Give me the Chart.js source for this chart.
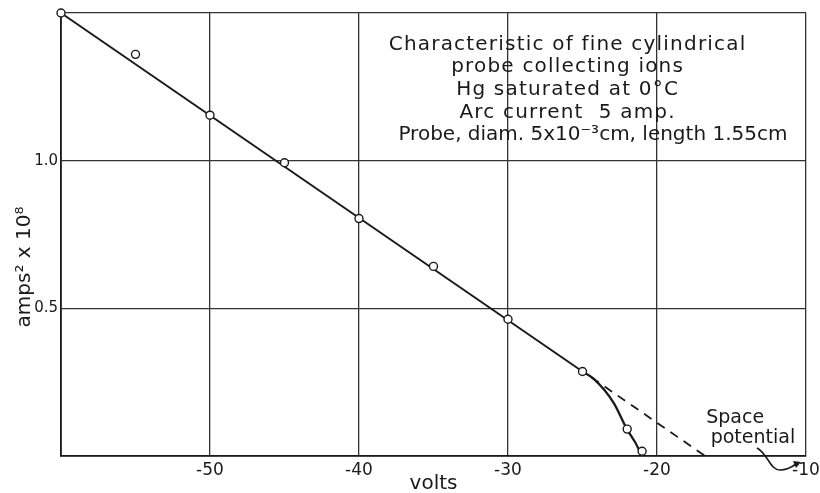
<!DOCTYPE html>
<html>
<head>
<meta charset="utf-8">
<script src="https://cdn.jsdelivr.net/npm/chart.js"></script>
<style>
  html, body { margin: 0; padding: 0; background: #fff; overflow: hidden; }
  #wrap { width: 830px; height: 493px; }
</style>
</head>
<body>
<div id="wrap"><canvas id="probeChart" width="830" height="493"></canvas></div>
<script>
// measured points: probe volts vs (amps)^2 x 10^8
var volts  = [-60, -55, -50, -45, -40, -35, -30, -25, -22, -21];
var ampsSq = [1.50, 1.36, 1.154, 0.993, 0.804, 0.642, 0.463, 0.286, 0.091, 0.016];

// straight line drawn through the points
var lineVolts = [-60, -25];
var lineAmps  = [1.50, 0.286];

// curve bending down near the space potential
var curveVolts = [-25, -24.26, -22.92, -22.02, -21.24, -21.08];
var curveAmps  = [0.286, 0.262, 0.181, 0.091, 0.024, 0];

// dashed extension of the straight line
var dashVolts = [-24.4, -16.77];
var dashAmps  = [0.266, 0];

var xTicks = [-50, -40, -30, -20, -10];
var yTicks = [0.5, 1.0];

var titleLines = [
  'Characteristic of fine cylindrical',
  'probe collecting ions',
  'Hg saturated at 0°C',
  'Arc current  5 amp.',
  'Probe, diam. 5x10⁻³cm, length 1.55cm'
];

var ink = '#1a1a1a';
var fam = '"DejaVu Sans", sans-serif';

function pts(xs, ys) {
  return xs.map(function(x, i) { return { x: x, y: ys[i] }; });
}

// text and arrow drawn on top of the plot
var notesPlugin = {
  id: 'notes',
  afterDraw: function(chart) {
    var ctx = chart.ctx;
    var xs = chart.scales.x, ys = chart.scales.y;
    ctx.save();
    ctx.fillStyle = ink;
    ctx.strokeStyle = ink;

    // caption block
    ctx.font = '20px ' + fam;
    ctx.textAlign = 'center';
    ctx.textBaseline = 'alphabetic';
    var cx = xs.getPixelForValue(-26.0);
    var y0 = ys.getPixelForValue(1.376);
    var step = ys.getPixelForValue(0) - ys.getPixelForValue(0.0767);
    titleLines.forEach(function(t, i) {
      var last = i === titleLines.length - 1;
      ctx.letterSpacing = last ? '0px' : '1.2px';
      ctx.fillText(t, last ? xs.getPixelForValue(-24.3) : cx, y0 + i * step);
    });
    ctx.letterSpacing = '0px';

    // space potential label
    ctx.font = '19px ' + fam;
    ctx.textAlign = 'left';
    ctx.fillText('Space', xs.getPixelForValue(-16.7), ys.getPixelForValue(0.113));
    ctx.fillText('potential', xs.getPixelForValue(-16.4), ys.getPixelForValue(0.043));

    // curly arrow towards -10
    var ax = xs.getPixelForValue(-10), ay = ys.getPixelForValue(0);
    ctx.lineWidth = 1.6;
    ctx.beginPath();
    ctx.moveTo(ax - 49, ay - 8);
    ctx.bezierCurveTo(ax - 38, ay - 2, ax - 36, ay + 14, ax - 26, ay + 14);
    ctx.quadraticCurveTo(ax - 18, ay + 14, ax - 10, ay + 8);
    ctx.stroke();
    ctx.beginPath();
    ctx.moveTo(ax - 5, ay + 6);
    ctx.lineTo(ax - 13, ay + 5);
    ctx.lineTo(ax - 10, ay + 12);
    ctx.closePath();
    ctx.fill();

    // y axis title
    ctx.font = '20px ' + fam;
    ctx.textAlign = 'center';
    ctx.textBaseline = 'middle';
    ctx.translate(25, ys.getPixelForValue(0.64));
    ctx.rotate(-Math.PI / 2);
    ctx.fillText('amps² x 10⁸', 0, 0);
    ctx.restore();
  }
};

var ctx = document.getElementById('probeChart').getContext('2d');
var chart = new Chart(ctx, {
  type: 'scatter',
  data: {
    datasets: [
      {
        data: pts(volts, ampsSq),
        pointRadius: 4,
        pointBackgroundColor: '#fff',
        pointBorderColor: ink,
        pointBorderWidth: 1.4,
        clip: false
      },
      {
        data: pts(lineVolts, lineAmps),
        showLine: true,
        borderColor: ink,
        borderWidth: 2,
        pointRadius: 0,
        clip: false
      },
      {
        data: pts(curveVolts, curveAmps),
        showLine: true,
        cubicInterpolationMode: 'monotone',
        borderColor: ink,
        borderWidth: 2.3,
        pointRadius: 0
      },
      {
        data: pts(dashVolts, dashAmps),
        showLine: true,
        borderColor: ink,
        borderWidth: 1.8,
        borderDash: [9, 7],
        pointRadius: 0
      }
    ]
  },
  options: {
    responsive: false,
    animation: false,
    layout: { padding: { top: 13, right: 24, left: 0, bottom: 0 } },
    plugins: { legend: { display: false }, tooltip: { enabled: false } },
    scales: {
      x: {
        type: 'linear',
        min: -60,
        max: -10,
        afterFit: function(s) { s.height = 37; },
        ticks: {
          stepSize: 10,
          padding: 4,
          color: ink,
          font: { family: fam, size: 17 },
          callback: function(v) { return xTicks.indexOf(v) >= 0 ? String(v) : ''; }
        },
        grid: { color: '#333', lineWidth: 1.3, drawTicks: false },
        border: { color: ink, width: 1.8 },
        title: {
          display: true,
          text: 'volts',
          color: ink,
          font: { family: fam, size: 20, lineHeight: 1 },
          padding: { top: 0, bottom: -1 }
        }
      },
      y: {
        min: 0,
        max: 1.5,
        afterFit: function(s) { s.width = 61; },
        ticks: {
          stepSize: 0.5,
          padding: 3,
          color: ink,
          font: { family: fam, size: 15 },
          callback: function(v) { return yTicks.indexOf(v) >= 0 ? v.toFixed(1) : ''; }
        },
        grid: { color: '#333', lineWidth: 1.3, drawTicks: false },
        border: { color: ink, width: 1.8 }
      }
    }
  },
  plugins: [notesPlugin]
});
</script>
</body>
</html>
